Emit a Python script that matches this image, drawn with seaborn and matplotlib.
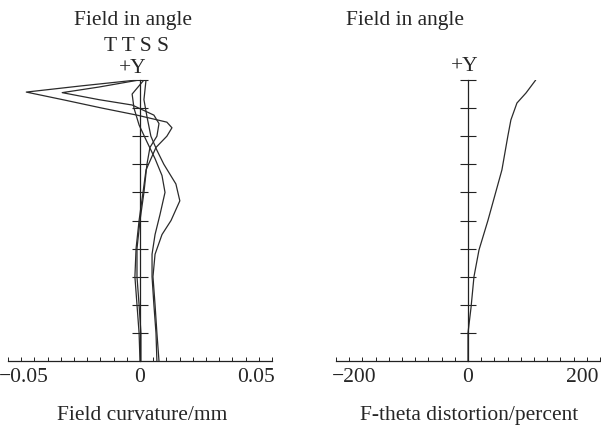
import numpy as np
import seaborn as sns
import matplotlib.pyplot as plt
from matplotlib.ticker import FixedLocator

sns.set_style('white')
plt.rcParams['font.family'] = ['Liberation Serif', 'DejaVu Serif']
plt.rcParams['font.size'] = 15.5

# Field curvature (mm) vs normalized field, four curves: T T S S
campo_t1 = [0, 0.1, 0.2, 0.3, 0.4, 0.5, 0.6, 0.68, 0.76, 0.80, 0.83, 0.85, 0.875, 0.90, 0.929, 0.957, 0.979, 1.0]
curv_t1 = [0, -0.0004, -0.0013, -0.0022, -0.0017, -0.0004, 0.0013, 0.0026, 0.0069, 0.0116, 0.0138, 0.0116,
           -0.0013, -0.0164, -0.0328, -0.0491, -0.0254, -0.0013]

campo_t2 = [0, 0.1, 0.2, 0.3, 0.4, 0.5, 0.6, 0.7, 0.76, 0.80, 0.845, 0.875, 0.911, 0.93, 0.955, 0.975, 1.0]
curv_t2 = [0.0004, 0.0004, -0.0004, -0.0013, -0.0013, 0, 0.0017, 0.003, 0.0043, 0.0073, 0.0082, 0.006,
           -0.0034, -0.0177, -0.0336, -0.0177, -0.0004]

campo_s1 = [0, 0.1, 0.2, 0.3, 0.38, 0.45, 0.5, 0.57, 0.63, 0.7, 0.75, 0.8, 0.87, 0.93, 1.0]
curv_s1 = [0.0082, 0.0073, 0.0065, 0.0056, 0.0065, 0.0095, 0.0134, 0.0172, 0.0155, 0.0103, 0.0073,
           0.0047, 0.003, 0.0017, 0.0026]

campo_s2 = [0, 0.1, 0.2, 0.3, 0.38, 0.45, 0.52, 0.6, 0.66, 0.72, 0.78, 0.84, 0.9, 0.95, 1.0]
curv_s2 = [0.0073, 0.0069, 0.006, 0.0052, 0.0052, 0.0065, 0.0086, 0.0108, 0.0095, 0.0065, 0.003,
           -0.0004, -0.0026, -0.0034, 0.0017]

# F-theta distortion (percent)
campo_dist = [0, 0.10, 0.19, 0.30, 0.395, 0.50, 0.68, 0.80, 0.858, 0.918, 0.954, 1.0]
distorsion = [0, 0, 5.3, 10.5, 19.3, 35, 59.6, 70, 75.4, 86, 102, 119]

curvas = [(curv_t1, campo_t1), (curv_t2, campo_t2), (curv_s1, campo_s1), (curv_s2, campo_s2)]

fig = plt.figure(figsize=(6.01, 4.29), dpi=100)
ax1 = fig.add_axes([8 / 601, 68 / 429, 264 / 601, 281 / 429])
ax2 = fig.add_axes([336 / 601, 68 / 429, 264 / 601, 281 / 429])

color = '#2b2b2b'
for xs, ys in curvas:
    sns.lineplot(x=xs, y=ys, sort=False, estimator=None, color=color, lw=0.9, ax=ax1)
sns.lineplot(x=distorsion, y=campo_dist, sort=False, estimator=None, color=color, lw=0.9, ax=ax2)


def estilo_eje(ax, xmax, etiquetas, nombres):
    ax.set_xlim(-xmax, xmax)
    ax.set_ylim(0, 1)
    for lado in ['top', 'right']:
        ax.spines[lado].set_visible(False)
    ax.spines['left'].set_position(('data', 0))
    ax.spines['left'].set_bounds(0, 1)
    for lado in ['left', 'bottom']:
        ax.spines[lado].set_color('#222222')
        ax.spines[lado].set_linewidth(0.9)
    ax.set_yticks(np.arange(1, 11) / 10)
    ax.set_yticklabels([])
    ax.tick_params(axis='y', left=True, direction='inout', length=11, width=0.8, color='#222222')
    ax.set_xticks(etiquetas)
    ax.set_xticklabels(nombres)
    ax.xaxis.set_minor_locator(FixedLocator(np.linspace(-xmax, xmax, 21)))
    ax.tick_params(axis='x', which='major', bottom=True, length=0, pad=5, labelsize=15.5)
    ax.tick_params(axis='x', which='minor', bottom=True, direction='in', length=3, width=0.7,
                   color='#222222')
    ax.set_xlabel('')
    ax.set_ylabel('')
    ax.patch.set_alpha(0)


estilo_eje(ax1, 0.057, [-0.05, 0, 0.05], ['\u22120.05', '0', '0.05'])
estilo_eje(ax2, 232, [-200, 0, 200], ['\u2212200', '0', '200'])

def fy(px):
    return 1 - px / 429

fig.text(133 / 601, fy(25), 'Field in angle', ha='center', va='baseline')
fig.text(137 / 601, fy(51), 'T T S S', ha='center', va='baseline')
fig.text(133 / 601, fy(73), '+Y', ha='center', va='baseline')
fig.text(405 / 601, fy(25), 'Field in angle', ha='center', va='baseline')
fig.text(465 / 601, fy(71), '+Y', ha='center', va='baseline')
fig.text(142 / 601, fy(420), 'Field curvature/mm', ha='center', va='baseline')
fig.text(469 / 601, fy(420), 'F-theta distortion/percent', ha='center', va='baseline')

fig.savefig('out.png', dpi=100)
